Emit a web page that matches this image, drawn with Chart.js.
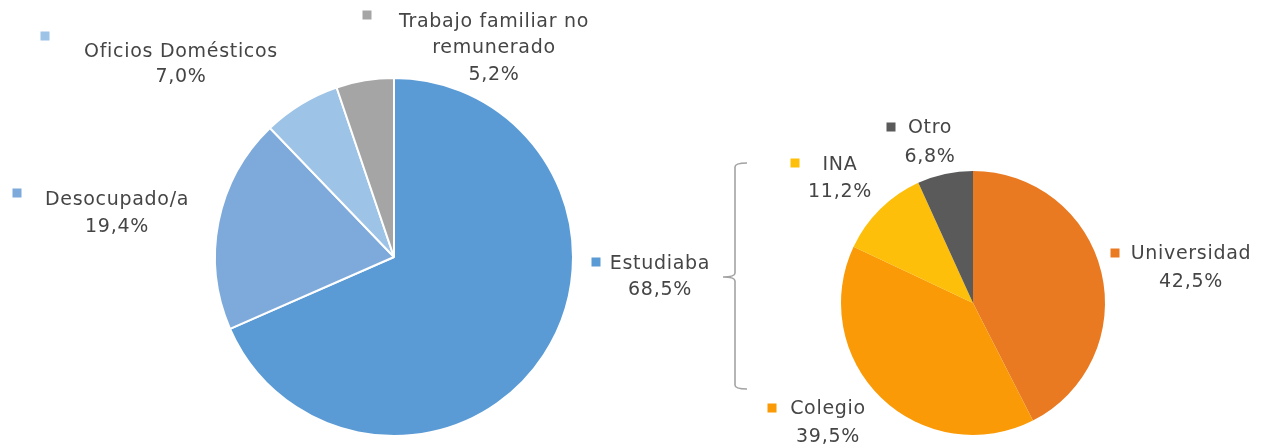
<!DOCTYPE html>
<html><head><meta charset="utf-8">
<script src="https://cdn.jsdelivr.net/npm/chart.js@4/dist/chart.umd.min.js"></script>
<style>
html,body{margin:0;padding:0;background:#fff;width:1261px;height:445px;overflow:hidden}
#wrap{position:relative;width:1261px;height:445px}
canvas{position:absolute;left:0;top:0}
</style></head><body>
<div id="wrap"><canvas id="c1" width="1261" height="445"></canvas><canvas id="c2" width="1261" height="445"></canvas></div>
<script>
// ---- data ----
const mainCategories = ['Estudiaba', 'Desocupado/a', 'Oficios Domésticos', ['Trabajo familiar no', 'remunerado']];
const mainValues = [68.5, 19.4, 7.0, 5.2];
const studyCategories = ['Universidad', 'Colegio', 'INA', 'Otro'];
const studyValues = [42.5, 39.5, 11.2, 6.8];

// ---- styles ----
const mainColors = ['#5B9BD5', '#7EAADB', '#9DC3E6', '#A5A5A5'];
const studyColors = ['#E97A22', '#FA9A06', '#FDBF0A', '#5A5A5A'];
const TEXT = '#454545';
const FONT = '19px "DejaVu Sans", sans-serif';

// label layout (text centre x, first line y, marker centre, line height)
const mainLabelPos = [
  {x: 660, y: 264, mx: 596, my: 262, lh: 26},
  {x: 117, y: 200, mx: 17, my: 193, lh: 27},
  {x: 181, y: 52, mx: 45, my: 36, lh: 25},
  {x: 494, y: 22, mx: 367, my: 15, lh: 26.5}
];
const studyLabelPos = [
  {x: 1191, y: 254, mx: 1115, my: 253, lh: 28},
  {x: 828, y: 409, mx: 772, my: 408, lh: 28},
  {x: 840, y: 165, mx: 795, my: 163, lh: 27},
  {x: 930, y: 128, mx: 891, my: 127, lh: 29}
];

function fmt(v) { return v.toFixed(1).replace('.', ',') + '%'; }

const labelPlugin = {
  id: 'sliceLabels',
  afterDatasetsDraw(chart, args, opts) {
    const ctx = chart.ctx;
    const ds = chart.data.datasets[0];
    ctx.save();
    ctx.font = FONT;
    ctx.letterSpacing = '0.7px';
    ctx.textAlign = 'center';
    ctx.textBaseline = 'middle';
    chart.data.labels.forEach((lab, i) => {
      const p = opts.pos[i];
      const lines = (Array.isArray(lab) ? lab : [lab]).concat([fmt(ds.data[i])]);
      ctx.fillStyle = ds.backgroundColor[i];
      ctx.fillRect(p.mx - 4.5, p.my - 4.5, 9, 9);
      ctx.fillStyle = TEXT;
      lines.forEach((t, k) => ctx.fillText(t, p.x, p.y + k * p.lh));
    });
    if (opts.bracket) {
      const b = opts.bracket;
      ctx.strokeStyle = '#A3A3A3';
      ctx.lineWidth = 1.6;
      ctx.beginPath();
      ctx.moveTo(b.x + 12, b.top);
      ctx.quadraticCurveTo(b.x, b.top, b.x, b.top + 4);
      ctx.lineTo(b.x, b.mid - 4);
      ctx.quadraticCurveTo(b.x, b.mid, b.x - 12, b.mid);
      ctx.moveTo(b.x - 12, b.mid);
      ctx.quadraticCurveTo(b.x, b.mid, b.x, b.mid + 4);
      ctx.lineTo(b.x, b.bottom - 4);
      ctx.quadraticCurveTo(b.x, b.bottom, b.x + 12, b.bottom);
      ctx.stroke();
    }
    ctx.restore();
  }
};

function pieConfig(labels, values, colors, radius, padding, border, pos, bracket) {
  return {
    type: 'pie',
    data: {labels: labels, datasets: [{data: values, backgroundColor: colors,
      borderColor: '#FFFFFF', borderWidth: border, hoverOffset: 0, offset: 0}]},
    options: {
      responsive: false, animation: false, devicePixelRatio: 1,
      radius: radius,
      layout: {padding: padding},
      events: [],
      plugins: {legend: {display: false}, tooltip: {enabled: false},
        sliceLabels: {pos: pos, bracket: bracket}}
    },
    plugins: [labelPlugin]
  };
}

new Chart(document.getElementById('c1'), pieConfig(mainCategories, mainValues, mainColors, 179,
  {left: 215, right: 688, top: 78, bottom: 9}, 2, mainLabelPos, null));
new Chart(document.getElementById('c2'), pieConfig(studyCategories, studyValues, studyColors, 132,
  {left: 841, right: 156, top: 171, bottom: 10}, 0, studyLabelPos,
  {x: 735, top: 163, mid: 277, bottom: 389}));
</script>
</body></html>
